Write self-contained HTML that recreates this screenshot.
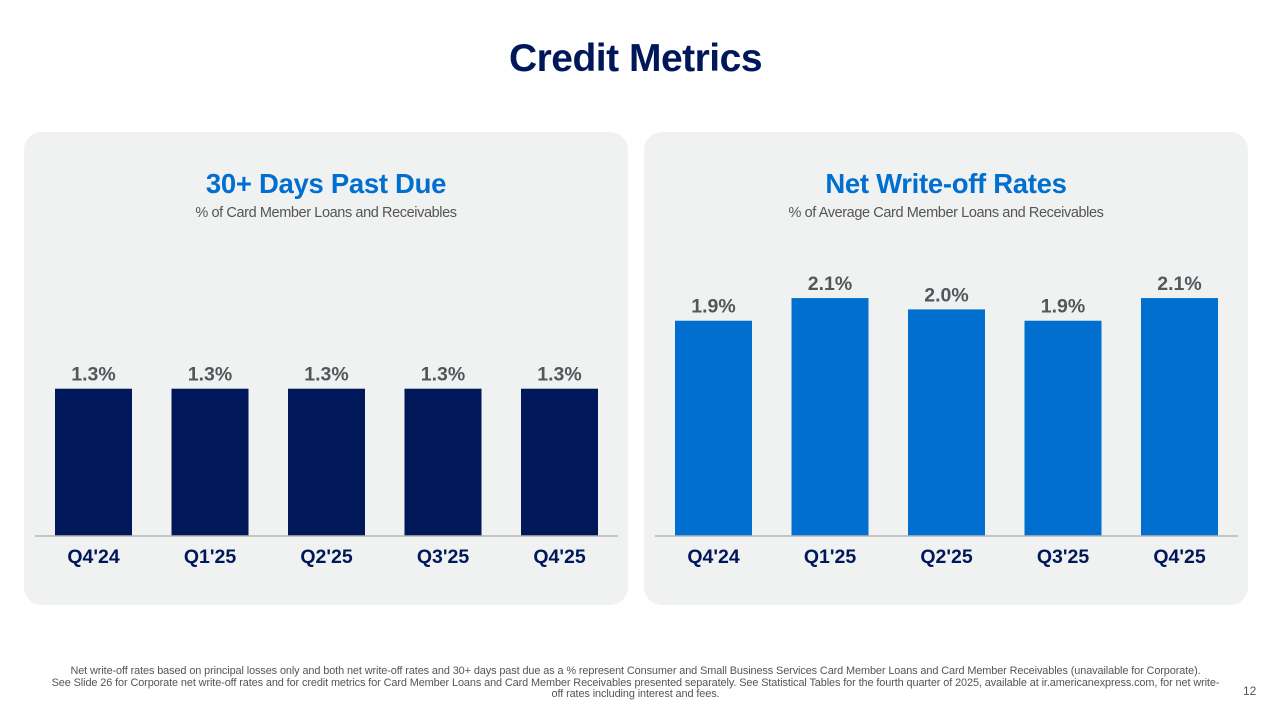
<!DOCTYPE html>
<html><head><meta charset="utf-8">
<style>
html,body{margin:0;padding:0;background:#fff;}
body{width:1271px;height:712px;position:relative;overflow:hidden;font-family:"Liberation Sans",sans-serif;}
.title{position:absolute;left:0;width:1271px;top:37px;text-align:center;font-size:39px;font-weight:bold;color:#00175a;letter-spacing:-0.5px;}
.panel{position:absolute;top:132px;width:604px;height:473px;background:#f0f1f1;border-radius:18px;}
.ptitle{position:absolute;left:0;width:100%;top:36px;text-align:center;font-size:27.5px;font-weight:bold;color:#006fcf;letter-spacing:-0.3px;}
.psub{position:absolute;left:0;width:100%;top:73px;text-align:center;font-size:14.5px;color:#555;letter-spacing:-0.4px;}
svg{position:absolute;left:0;top:0;}
.foot{position:absolute;left:0;width:1271px;top:666px;text-align:center;font-size:10.9px;line-height:11.5px;color:#555;letter-spacing:-0.1px;}
.pg{position:absolute;left:1243px;top:684px;font-size:12px;color:#555;}
</style></head><body>
<div class="title">Credit Metrics</div>
<div class="panel" style="left:24px">
  <div class="ptitle">30+ Days Past Due</div>
  <div class="psub">% of Card Member Loans and Receivables</div>
  <svg id="c1" width="604" height="473"></svg>
</div>
<div class="panel" style="left:644px">
  <div class="ptitle">Net Write-off Rates</div>
  <div class="psub">% of Average Card Member Loans and Receivables</div>
  <svg id="c2" width="604" height="473"></svg>
</div>
<div class="foot">Net write-off rates based on principal losses only and both net write-off rates and 30+ days past due as a % represent Consumer and Small Business Services Card Member Loans and Card Member Receivables (unavailable for Corporate).<br>See Slide 26 for Corporate net write-off rates and for credit metrics for Card Member Loans and Card Member Receivables presented separately. See Statistical Tables for the fourth quarter of 2025, available at ir.americanexpress.com, for net write-<br>off rates including interest and fees.</div>
<div class="pg">12</div>
<script>
const categories = ["Q4'24","Q1'25","Q2'25","Q3'25","Q4'25"];
const pastDueValues = [1.3,1.3,1.3,1.3,1.3];
const writeOffValues = [1.9,2.1,2.0,1.9,2.1];
const pastDueLabels = ["1.3%","1.3%","1.3%","1.3%","1.3%"];
const writeOffLabels = ["1.9%","2.1%","2.0%","1.9%","2.1%"];

const NS="http://www.w3.org/2000/svg";
const baseY=404, pxPerUnit=113.3, firstX=31, step=116.5, barW=77;
function xPos(i){return firstX+i*step;}
function yPos(v){return baseY-v*pxPerUnit;}
function draw(svg, values, labels, color, prefix){
  const line=document.createElementNS(NS,'line');
  
  
  line.setAttribute('x1',11);line.setAttribute('x2',594);
  line.setAttribute('y1',baseY);line.setAttribute('y2',baseY);
  line.setAttribute('stroke','#b5b5b5');line.setAttribute('stroke-width','1.5');
  values.forEach((v,i)=>{
    const r=document.createElementNS(NS,'rect');
    
    
    r.setAttribute('x',xPos(i));r.setAttribute('y',yPos(v));
    r.setAttribute('width',barW);r.setAttribute('height',baseY-yPos(v));
    r.setAttribute('fill',color);svg.appendChild(r);
    const t=document.createElementNS(NS,'text');
    
    
    t.setAttribute('x',xPos(i)+barW/2);t.setAttribute('y',yPos(v)-8);
    t.setAttribute('text-anchor','middle');t.setAttribute('font-size','19.5');
    t.setAttribute('font-weight','bold');t.setAttribute('fill','#53565a');
    t.setAttribute('font-family','Liberation Sans, sans-serif');
    t.textContent=labels[i];svg.appendChild(t);
    const c=document.createElementNS(NS,'text');
    
    
    c.setAttribute('x',xPos(i)+barW/2);c.setAttribute('y',baseY+27);
    c.setAttribute('text-anchor','middle');c.setAttribute('font-size','19.5');
    c.setAttribute('font-weight','bold');c.setAttribute('fill','#00175a');
    c.setAttribute('font-family','Liberation Sans, sans-serif');
    c.textContent=categories[i];svg.appendChild(c);
  });
  svg.appendChild(line);
}
draw(document.getElementById('c1'), pastDueValues, pastDueLabels, '#00175a', 'past-due');
draw(document.getElementById('c2'), writeOffValues, writeOffLabels, '#006fcf', 'write-off');
</script>
</body></html>
